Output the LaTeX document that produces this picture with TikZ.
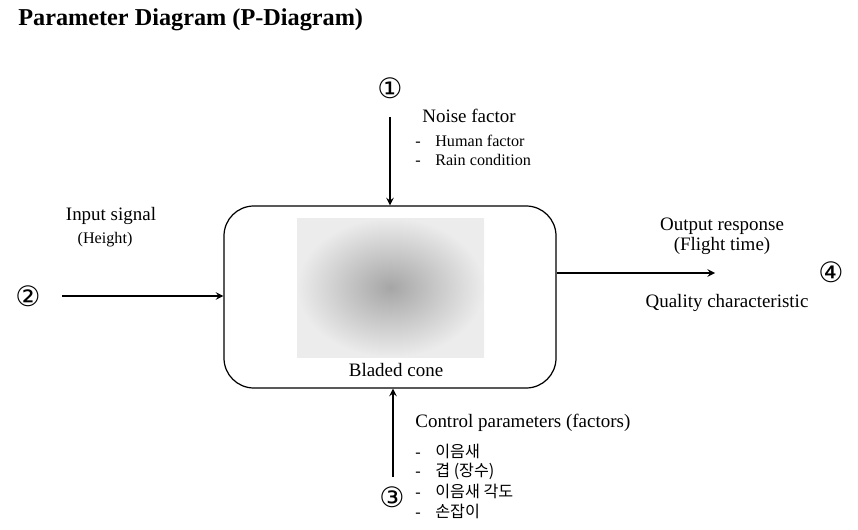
\documentclass[tikz,border=0pt]{standalone}
\usepackage{fontspec}
\setmainfont{Liberation Serif}
\newfontfamily\symfont{DejaVu Sans}
\newfontfamily\kofont{Noto Sans CJK KR}
\usetikzlibrary{positioning}

\tikzset{
  lbl/.style={inner sep=0pt, font=\fontsize{10.8}{12}\selectfont},
  itm/.style={inner sep=0pt, anchor=west, font=\fontsize{9.2}{11}\selectfont},
  num/.style={inner sep=0pt, font=\symfont\fontsize{16}{18}\selectfont},
  arr/.style={->, line width=0.9pt, >=stealth},
}

\begin{document}
\begin{tikzpicture}[x=0.02cm,y=-0.02cm]
  \useasboundingbox (0,0) rectangle (858,530);
  \node[anchor=west, inner sep=0pt, font=\bfseries\fontsize{13.8}{16}\selectfont](Title) at (18,20) {Parameter Diagram (P-Diagram)};

  % system box with photo
  \node[draw, line width=0.7pt, rounded corners=17pt, minimum width=332*0.02cm, minimum height=182*0.02cm](Sys) at (390,297) {};
  \shade[inner color=gray!70, outer color=gray!15] (297,218) rectangle (484,357);
  \node[lbl](Cone) at (396,370) {Bladed cone};

  % noise
  \node[num](N1) at (390,88) {①};
  \coordinate (Ntop) at (390,117);
  \node[lbl, anchor=west](Noise) at (422,116) {Noise factor};
  \node[itm](Hum) at (415,141) {-\hspace{0.9em}Human factor};
  \node[itm](Rain) at (415,160) {-\hspace{0.9em}Rain condition};

  % input
  \node[num](N2) at (28,296) {②};
  \coordinate (Inl) at (62,296);
  \node[lbl](Inp) at (111,216) {Input signal};
  \node[itm, anchor=center](Hgt) at (105,240) {(Height)};

  % output
  \coordinate (Outr) at (715,273);
  \node[num](N4) at (831,272) {④};
  \node[lbl](Outp) at (722,226) {Output response};
  \node[lbl](Flt) at (722,246) {(Flight time)};
  \node[lbl](Qual) at (727,303) {Quality characteristic};

  % control
  \node[num](N3) at (392,497) {③};
  \coordinate (Cbot) at (393,477);
  \node[lbl, anchor=west](Ctrl) at (415,423) {Control parameters (factors)};
  \node[itm](K1) at (415,451) {-\hspace{0.9em}{\kofont 이음새}};
  \node[itm](K2) at (415,471) {-\hspace{0.9em}{\kofont 겹 (장수)}};
  \node[itm](K3) at (415,491) {-\hspace{0.9em}{\kofont 이음새 각도}};
  \node[itm](K4) at (415,511) {-\hspace{0.9em}{\kofont 손잡이}};

  \draw[arr] (Ntop) -- (Sys.north -| Ntop);
  \draw[arr] (Inl) -- (Sys.west |- Inl);
  \draw[arr] (Sys.east |- Outr) -- (Outr);
  \draw[arr] (Cbot) -- (Sys.south -| Cbot);
\end{tikzpicture}
\end{document}
